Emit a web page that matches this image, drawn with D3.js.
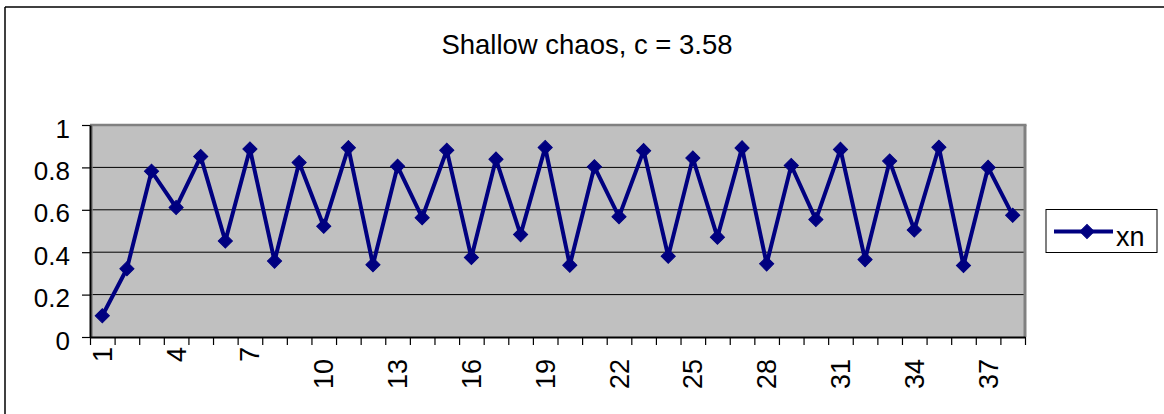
<!DOCTYPE html>
<html><head><meta charset="utf-8">
<script src="https://cdn.jsdelivr.net/npm/d3@7"></script>
<style>
html,body{margin:0;padding:0;background:#fff;}
svg{display:block;font-family:"Liberation Sans",Arial,sans-serif;}
</style></head>
<body>
<svg id="chart" width="1164" height="414"></svg>
<script>
const titleText = "Shallow chaos, c = 3.58";
const seriesName = "xn";
const categories = ["1","2","3","4","5","6","7","8","9","10","11","12","13","14","15","16","17","18","19","20","21","22","23","24","25","26","27","28","29","30","31","32","33","34","35","36","37","38"];
const xnValues = [0.100,0.322,0.782,0.611,0.851,0.453,0.887,0.358,0.823,0.522,0.893,0.341,0.805,0.563,0.881,0.375,0.839,0.483,0.894,0.339,0.803,0.567,0.879,0.381,0.844,0.471,0.892,0.345,0.809,0.554,0.885,0.365,0.830,0.505,0.895,0.337,0.800,0.574];
const xTickLabels = ["1","4","7","10","13","16","19","22","25","28","31","34","37"];
const yTickValues = [0,0.2,0.4,0.6,0.8,1];
const yTickLabels = ["0","0.2","0.4","0.6","0.8","1"];

const svg = d3.select("#chart");
const plot = {left:90, right:1025, top:125, bottom:337};
const navy = "#000080";

// outer chart border (top and left visible)
svg.append("line").attr("x1",5).attr("y1",7).attr("x2",1164).attr("y2",7).attr("stroke","#000").attr("stroke-width",1.5);
svg.append("line").attr("x1",5).attr("y1",7).attr("x2",5).attr("y2",414).attr("stroke","#000").attr("stroke-width",1.5);

// title
svg.append("text").attr("x",587).attr("y",54).attr("text-anchor","middle")
  .attr("font-size",27.5).attr("fill","#000").text(titleText);

const x = d3.scaleBand().domain(categories).range([plot.left, plot.right]).padding(0);
const xEdge = d3.scaleLinear().domain([0, categories.length]).range([plot.left, plot.right]);
const y = d3.scaleLinear().domain([0,1]).range([plot.bottom, plot.top]);

// plot area
svg.append("rect").attr("x",plot.left).attr("y",plot.top)
  .attr("width",plot.right-plot.left).attr("height",plot.bottom-plot.top).attr("fill","#c0c0c0");
// gridlines
svg.append("g").selectAll("line").data(yTickValues.filter(v=>v>0 && v<1)).join("line")
  .attr("x1",plot.left).attr("x2",plot.right).attr("y1",d=>y(d)).attr("y2",d=>y(d))
  .attr("stroke","#000").attr("stroke-width",1);
// plot border (gray)
svg.append("line").attr("x1",plot.left).attr("x2",plot.right+1.5).attr("y1",plot.top).attr("y2",plot.top)
  .attr("stroke","#808080").attr("stroke-width",2.5);
svg.append("line").attr("x1",plot.right).attr("x2",plot.right).attr("y1",plot.top).attr("y2",plot.bottom)
  .attr("stroke","#808080").attr("stroke-width",3);
svg.append("line").attr("x1",plot.left+2).attr("x2",plot.left+2).attr("y1",plot.top).attr("y2",plot.bottom)
  .attr("stroke","#808080").attr("stroke-width",1.5);

// y axis
const yAxis = svg.append("g").attr("transform",`translate(${plot.left},0)`)
  .call(d3.axisLeft(y).tickValues(yTickValues).tickSize(8).tickSizeOuter(0)
    .tickFormat((d,i)=>yTickLabels[i]));
yAxis.select(".domain").attr("stroke","#000").attr("stroke-width",2);
yAxis.selectAll(".tick line").attr("stroke","#000").attr("stroke-width",1.2);
yAxis.selectAll(".tick text").attr("font-size",26).attr("fill","#000")
  .attr("font-family","Liberation Sans, Arial, sans-serif")
  .attr("x",-20).attr("dy",null).attr("y",12);

// x axis (ticks at category boundaries)
const xAxis = svg.append("g").attr("transform",`translate(0,${plot.bottom})`)
  .call(d3.axisBottom(xEdge).tickValues(d3.range(0, categories.length+1)).tickSize(8).tickSizeOuter(0).tickFormat(""));
xAxis.select(".domain").attr("stroke","#000").attr("stroke-width",2);
xAxis.selectAll(".tick line").attr("stroke","#000").attr("stroke-width",1.2);

// x labels rotated
svg.append("g").selectAll("text").data(xTickLabels).join("text")
  .attr("font-size",27).attr("fill","#000").attr("text-anchor","end")
  .attr("transform",d=>{
    const cx = x(d) + x.bandwidth()/2;
    const top = plot.bottom + 12*d.length - 2;
    return `translate(${cx + 9.5},${top}) rotate(-90)`;
  })
  .text(d=>d);

// line
const line = d3.line().x((d,i)=>x(categories[i])+x.bandwidth()/2).y(d=>y(d));
svg.append("path").datum(xnValues).attr("d",line).attr("fill","none")
  .attr("stroke",navy).attr("stroke-width",4).attr("stroke-linejoin","miter");

// diamond markers
const diamond = d3.symbol().type(d3.symbolSquare).size(100);
svg.append("g").selectAll("path").data(xnValues).join("path")
  .attr("d",diamond())
  .attr("transform",(d,i)=>`translate(${x(categories[i])+x.bandwidth()/2},${y(d)}) rotate(45)`)
  .attr("fill",navy).attr("stroke",navy).attr("stroke-width",1);

// legend
const lg = svg.append("g");
lg.append("rect").attr("x",1046).attr("y",209.5).attr("width",111).attr("height",43)
  .attr("fill","#fff").attr("stroke","#000").attr("stroke-width",1);
lg.append("line").attr("x1",1054).attr("x2",1113).attr("y1",231.5).attr("y2",231.5)
  .attr("stroke",navy).attr("stroke-width",4);
lg.append("path").attr("d",diamond()).attr("transform","translate(1087,231.5) rotate(45)")
  .attr("fill",navy).attr("stroke",navy).attr("stroke-width",1);
lg.append("text").attr("x",1116).attr("y",246).attr("font-size",27).attr("fill","#000").text(seriesName);
</script>
</body></html>
